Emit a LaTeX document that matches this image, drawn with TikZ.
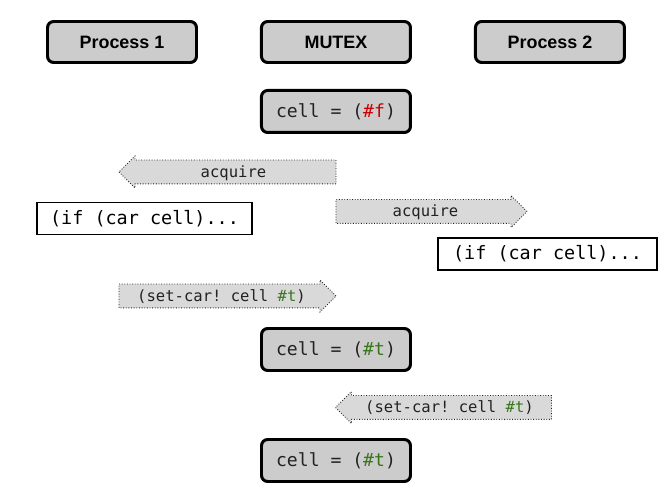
\documentclass[tikz,border=0pt]{standalone}
\usepackage{fontspec}
\setsansfont{Liberation Sans}
\setmonofont{DejaVu Sans Mono}
\usetikzlibrary{positioning,shapes.arrows}
\definecolor{boxfill}{HTML}{CCCCCC}
\definecolor{msgfill}{HTML}{D9D9D9}
\definecolor{truecol}{HTML}{38761D}
\definecolor{falsecol}{HTML}{CC0000}
\definecolor{ink}{HTML}{222222}

\begin{document}
\begin{tikzpicture}[
  actor/.style={draw, line width=1.7pt, rounded corners=3.5pt, fill=boxfill,
                minimum width=2.98cm, minimum height=0.82cm,
                font=\sffamily\bfseries\fontsize{10.2}{12}\selectfont},
  cellbox/.style={draw, line width=1.7pt, rounded corners=3.5pt, fill=boxfill,
                  minimum width=2.98cm, minimum height=0.84cm, text=ink,
                  font=\ttfamily\fontsize{10.3}{12}\selectfont},
  codebox/.style={draw, line width=0.6pt, minimum width=4.3cm, minimum height=0.64cm,
                  font=\ttfamily\fontsize{10.5}{12}\selectfont},
  msg/.style={single arrow, draw=ink, densely dotted, line width=0.5pt, fill=msgfill,
              single arrow head extend=0.08cm, inner sep=0pt,
              text height=0.34cm, text depth=0.12cm, minimum height=4.34cm,
              text=ink, font=\ttfamily\fontsize{8.85}{10}\selectfont},
  msgleft/.style={msg, shape border rotate=180}
]
  \useasboundingbox (0,0) rectangle (13.44,-10.02);

  % header row
  \node[actor] (p1) at (2.44,-0.84) {Process 1};
  \node[actor, right=1.24cm of p1] (mutex) {MUTEX};
  \node[actor, right=1.24cm of mutex] (p2) {Process 2};

  % state of the cell
  \node[cellbox, below=0.5cm of mutex] (cell0) {cell = (\textcolor{falsecol}{\#f})};
  \node[cellbox] (cell1) at (6.72,-6.99) {cell = (\textcolor{truecol}{\#t})};
  \node[cellbox] (cell2) at (6.72,-9.21) {cell = (\textcolor{truecol}{\#t})};

  % messages
  \node[msgleft] (acq1) at (4.67,-3.44) {acquire};
  \node[msg, minimum height=3.82cm] (acq2) at (8.51,-4.23) {acquire};
  \node[msg] (set1) at (4.43,-5.92) {(set-car! cell \textcolor{truecol}{\#t})};
  \node[msgleft, minimum height=4.32cm] (set2) at (8.99,-8.15) {(set-car! cell \textcolor{truecol}{\#t})};

  % code run by each process
  \node[codebox] (test1) at (2.89,-4.37) {(if (car cell)...};
  \node[codebox, minimum width=4.38cm] (test2) at (10.95,-5.08) {(if (car cell)...};
\end{tikzpicture}
\end{document}
